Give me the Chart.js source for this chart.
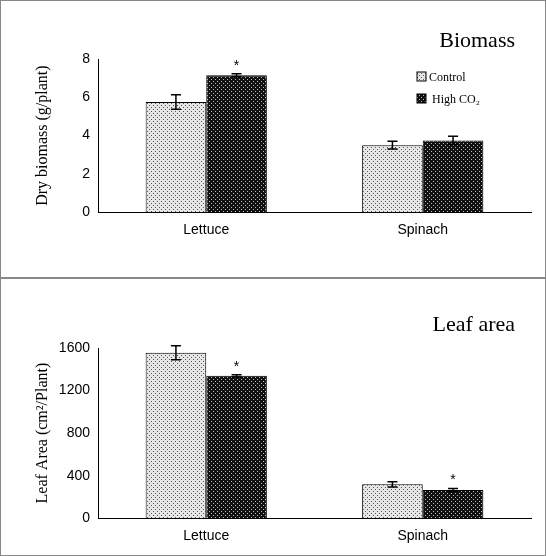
<!DOCTYPE html>
<html>
<head>
<script src="https://cdn.jsdelivr.net/npm/chart.js@4.4.1/dist/chart.umd.min.js"></script>
<style>
body { margin: 0; background: #fff; }
.panel { position: absolute; left: 0; width: 544px; height: 276px; border: 1px solid #888; }
</style>
</head>
<body>
<div class="panel" style="top:0"><canvas id="chart-biomass" width="544" height="276"></canvas></div>
<div class="panel" style="top:278px"><canvas id="chart-area" width="544" height="276"></canvas></div>
<script>
const categories = ['Lettuce', 'Spinach'];
const seriesNames = ['Control', 'High CO\u2082'];

const biomassControl = [5.75, 3.5];
const biomassHigh = [7.15, 3.75];
const biomassControlErr = [0.38, 0.2];
const biomassHighErr = [0.08, 0.22];
const biomassSig = [true, false];
const biomassTicks = [0, 2, 4, 6, 8];

const areaControl = [1555, 318];
const areaHigh = [1338, 265];
const areaControlErr = [65, 25];
const areaHighErr = [10, 15];
const areaSig = [true, true];
const areaTicks = [0, 400, 800, 1200, 1600];

function makePattern(bg, dot) {
    const c = document.createElement('canvas');
    c.width = 4; c.height = 4;
    const x = c.getContext('2d');
    x.fillStyle = bg; x.fillRect(0, 0, 4, 4);
    x.fillStyle = dot;
    x.fillRect(0, 0, 1, 1);
    x.fillRect(2, 2, 1, 1);
    return x.createPattern(c, 'repeat');
}
const lightFill = makePattern('#e6e6e6', '#555');
const darkFill = makePattern('#111', '#bbb');

const extrasPlugin = {
    id: 'extras',
    afterDatasetsDraw(chart, args, opts) {
        const ctx = chart.ctx;
        const y = chart.scales.y;
        ctx.save();
        ctx.strokeStyle = '#000';
        ctx.lineWidth = 1.5;
        chart.data.datasets.forEach((ds, i) => {
            chart.getDatasetMeta(i).data.forEach((bar, j) => {
                const v = ds.data[j], e = ds.errors[j];
                const top = y.getPixelForValue(v + e), bot = y.getPixelForValue(v - e);
                ctx.beginPath();
                ctx.moveTo(bar.x, top); ctx.lineTo(bar.x, bot);
                ctx.moveTo(bar.x - 5, top); ctx.lineTo(bar.x + 5, top);
                ctx.moveTo(bar.x - 5, bot); ctx.lineTo(bar.x + 5, bot);
                ctx.stroke();
                if (i === 1 && opts.sig[j]) {
                    ctx.fillStyle = '#000';
                    ctx.font = '14px "Liberation Sans"';
                    ctx.textAlign = 'center';
                    ctx.fillText('*', bar.x, top - 4);
                }
            });
        });
        // title
        ctx.fillStyle = '#000';
        ctx.textAlign = 'right';
        ctx.font = '22px "Liberation Serif"';
        ctx.fillText(opts.title, 514, opts.titleY);
        // legend
        if (opts.legend) {
            ctx.textAlign = 'left';
            ctx.font = '12px "Liberation Serif"';
            [lightFill, darkFill].forEach((f, k) => {
                const ly = 71 + k * 22;
                ctx.fillStyle = f;
                ctx.fillRect(416, ly, 9, 9);
                ctx.strokeStyle = '#000'; ctx.lineWidth = 1;
                ctx.strokeRect(416, ly, 9, 9);
                ctx.fillStyle = '#000';
                ctx.fillText(seriesNames[k], 428 + k * 3, ly + 9);
            });
        }
        ctx.restore();
    }
};

function makeChart(id, control, high, cErr, hErr, ticks, yTitle, opts) {
    return new Chart(document.getElementById(id), {
        type: 'bar',
        data: {
            labels: categories,
            datasets: [
                { label: seriesNames[0], data: control, errors: cErr, backgroundColor: lightFill,
                  borderColor: '#000', borderWidth: 1, categoryPercentage: 0.56, barPercentage: 1 },
                { label: seriesNames[1], data: high, errors: hErr, backgroundColor: darkFill,
                  borderColor: '#000', borderWidth: 1, categoryPercentage: 0.56, barPercentage: 1 }
            ]
        },
        options: {
            responsive: false,
            animation: false,
            layout: { padding: opts.padding },
            plugins: { legend: { display: false }, tooltip: { enabled: false }, extras: opts },
            scales: {
                x: {
                    grid: { display: false, drawTicks: false },
                    border: { color: '#000' },
                    ticks: { color: '#000', padding: 10, font: { family: 'Liberation Sans', size: 14 } }
                },
                y: {
                    min: ticks[0], max: ticks[ticks.length - 1],
                    afterBuildTicks: s => { s.ticks = ticks.map(v => ({ value: v })); },
                    afterFit: s => { s.width = 69; },
                    grid: { display: false, drawTicks: true, tickLength: 5, tickColor: '#000' },
                    border: { color: '#000' },
                    ticks: { color: '#000', callback: v => String(v),
                             font: { family: 'Liberation Sans', size: 14 } },
                    title: { display: true, text: yTitle, color: '#000',
                             font: { family: 'Liberation Serif', size: 16 } }
                }
            }
        },
        plugins: [extrasPlugin]
    });
}

makeChart('chart-biomass', biomassControl, biomassHigh, biomassControlErr, biomassHighErr,
    biomassTicks, 'Dry biomass (g/plant)',
    { sig: biomassSig, title: 'Biomass', titleY: 46, legend: true,
      padding: { top: 58, right: 14, bottom: 28, left: 28 } });

makeChart('chart-area', areaControl, areaHigh, areaControlErr, areaHighErr,
    areaTicks, 'Leaf Area (cm\u00b2/Plant)',
    { sig: areaSig, title: 'Leaf area', titleY: 52, legend: false,
      padding: { top: 69, right: 14, bottom: 0, left: 28 } });
</script>
</body>
</html>
